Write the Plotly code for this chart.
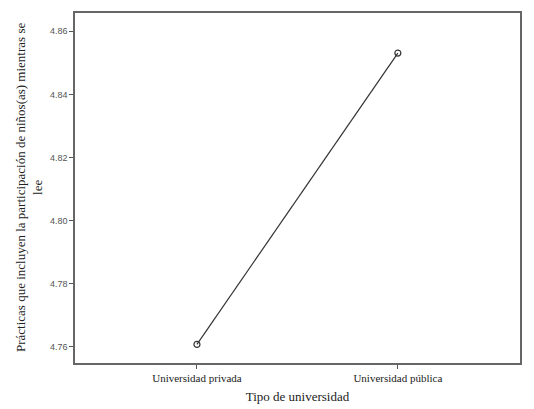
import plotly.graph_objects as go

# Data
categorias = ["Universidad privada", "Universidad pública"]
medias = [4.7608, 4.8531]
y_ticks = [4.76, 4.78, 4.80, 4.82, 4.84, 4.86]

# page body has an 8px default margin, so the figure is sized a bit smaller
W, H = 526, 401
L, R, T, B = 67, 14, 3, 46

fig = go.Figure()

fig.add_trace(
    go.Scatter(
        x=[0, 1],
        y=medias,
        mode="lines+markers",
        line=dict(color="#333333", width=1.2),
        marker=dict(symbol="circle-open", size=6, color="#333333", line=dict(width=1.2)),
        showlegend=False,
    )
)

serif = "Liberation Serif, Times New Roman, serif"

fig.update_layout(
    width=W,
    height=H,
    margin=dict(l=L, r=R, t=T, b=B),
    paper_bgcolor="white",
    plot_bgcolor="white",
    xaxis=dict(
        range=[-0.607, 1.608],
        tickvals=[0, 1],
        ticktext=categorias,
        ticks="outside",
        ticklen=4,
        tickcolor="#555555",
        tickfont=dict(family=serif, size=11, color="#222222"),
        showgrid=False,
        zeroline=False,
        showline=True,
        mirror=True,
        linecolor="#666666",
        linewidth=1.5,
        title=dict(text="Tipo de universidad", font=dict(family=serif, size=13, color="#222222"), standoff=9),
    ),
    yaxis=dict(
        range=[4.7549, 4.8658],
        tickvals=y_ticks,
        tickformat=".2f",
        ticks="outside",
        ticklen=4,
        tickcolor="#555555",
        tickfont=dict(family="Liberation Sans, Arial, sans-serif", size=9, color="#555555"),
        showgrid=False,
        zeroline=False,
        showline=True,
        mirror=True,
        linecolor="#666666",
        linewidth=1.5,
    ),
    annotations=[
        dict(
            text="Prácticas que incluyen la participación de niños(as) mientras se<br>lee",
            textangle=-90,
            x=(29 - 8 - L) / (W - L - R),
            xref="paper",
            xanchor="center",
            y=0.5,
            yref="paper",
            yanchor="middle",
            showarrow=False,
            font=dict(family=serif, size=13, color="#222222"),
        )
    ],
)

fig.write_html("out.html")
